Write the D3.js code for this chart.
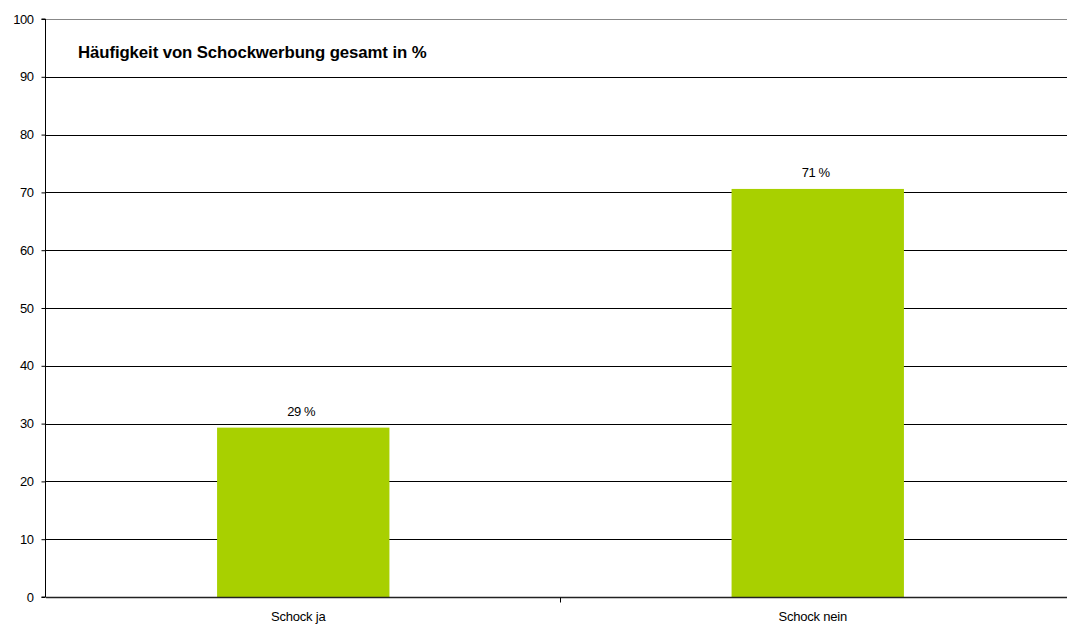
<!DOCTYPE html>
<html>
<head>
<meta charset="utf-8">
<script src="https://cdn.jsdelivr.net/npm/d3@7"></script>
<style>
  body { margin: 0; background: #fff; }
  text { font-family: "Liberation Sans", Arial, sans-serif; fill: #000; }
</style>
</head>
<body>
<div id="chart"></div>
<script>
const categories = ["Schock ja", "Schock nein"];
const values = [29.3, 70.6];
const valueLabels = ["29 %", "71 %"];
const yTicks = [0, 10, 20, 30, 40, 50, 60, 70, 80, 90, 100];
const title = "Häufigkeit von Schockwerbung gesamt in %";

const W = 1067, H = 628;
const margin = {t: 19, r: -8, b: 31, l: 46};

const svg = d3.select("#chart").append("svg")
  .attr("width", W)
  .attr("height", H);

const x = d3.scaleBand()
  .domain(categories)
  .range([margin.l, W - margin.r])
  .paddingInner(0)
  .paddingOuter(0);

const y = d3.scaleLinear()
  .domain([0, 100])
  .range([H - margin.b, margin.t]);

// gridlines
svg.append("g")
  .selectAll("line")
  .data(yTicks.filter(d => d > 0))
  .enter()
  .append("line")
  .attr("x1", margin.l)
  .attr("x2", W)
  .attr("y1", d => Math.round(y(d)) + 0.5)
  .attr("y2", d => Math.round(y(d)) + 0.5)
  .attr("stroke", d => d === 100 ? "#888" : "#000")
  .attr("stroke-width", 1);

// bars
const barW = x.bandwidth() * 0.335;
svg.selectAll(".bar")
  .data(values)
  .enter()
  .append("rect")
  .attr("class", "bar")
  .attr("x", (d, i) => x(categories[i]) + x.bandwidth() / 2 - barW / 2)
  .attr("y", d => y(d))
  .attr("width", barW)
  .attr("height", d => y(0) - y(d))
  .attr("fill", "#a8d000");

// value labels
svg.selectAll(".vlabel")
  .data(values)
  .enter()
  .append("text")
  .attr("class", "vlabel")
  .attr("x", (d, i) => x(categories[i]) + x.bandwidth() / 2 - 2)
  .attr("y", d => y(d) - 12)
  .attr("text-anchor", "middle")
  .style("font-size", "13px")
  .style("letter-spacing", "-0.4px")
  .text((d, i) => valueLabels[i]);

// y axis
const yAxis = svg.append("g")
  .attr("transform", `translate(${margin.l - 0.5},0)`)
  .call(d3.axisLeft(y).tickValues(yTicks).tickSize(4).tickPadding(8));
yAxis.select(".domain").attr("stroke", "#000").attr("d", `M-4,${y(100)}H0V${y(0)}H-4`);
yAxis.selectAll(".tick line").attr("stroke", "#000");
yAxis.selectAll("text").style("font-size", "13px").style("letter-spacing", "-0.5px");

// x axis
const zeroY = Math.round(y(0)) + 0.5;
svg.append("line")
  .attr("x1", margin.l)
  .attr("x2", W)
  .attr("y1", zeroY)
  .attr("y2", zeroY)
  .attr("stroke", "#222")
  .attr("stroke-width", 1.5);
svg.append("line")
  .attr("x1", x(categories[1]))
  .attr("x2", x(categories[1]))
  .attr("y1", zeroY)
  .attr("y2", zeroY + 5)
  .attr("stroke", "#000");

svg.selectAll(".xlabel")
  .data(categories)
  .enter()
  .append("text")
  .attr("class", "xlabel")
  .attr("x", d => x(d) + x.bandwidth() / 2 - 5)
  .attr("y", H - 7)
  .attr("text-anchor", "middle")
  .style("font-size", "13px")
  .style("letter-spacing", "-0.2px")
  .text(d => d);

// title
svg.append("text")
  .attr("x", 78)
  .attr("y", 58)
  .style("font-size", "16.8px")
  .style("font-weight", "bold")
  .style("letter-spacing", "-0.1px")
  .text(title);
</script>
</body>
</html>
